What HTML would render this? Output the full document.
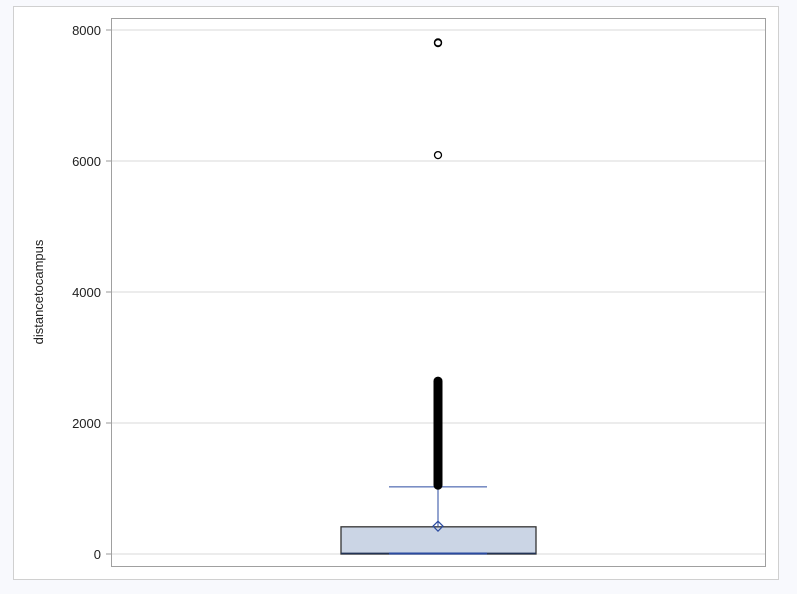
<!DOCTYPE html>
<html><head><meta charset="utf-8"><style>
body{margin:0;background:#f8f9fd;width:797px;height:594px;overflow:hidden;font-family:"Liberation Sans",sans-serif}
</style></head><body>
<svg width="797" height="594" style="position:absolute;left:0;top:0">
<rect x="13.5" y="6.5" width="765" height="573" fill="#fff" stroke="#d0d0d0"/>
<g id="grid"></g>
<rect x="111.5" y="18.5" width="654" height="548" fill="none" stroke="#a0a0a0"/>
<g id="ticks"></g>
<text x="43" y="292" font-size="13" fill="#222" text-anchor="middle" transform="rotate(-90 43 292)">distancetocampus</text>
<g id="marks"></g>
</svg>
<script>
const yTicks=[0,2000,4000,6000,8000];
const stats={min:0,q1:0,median:10,q3:415,max:1025,mean:425};
const outlierRange=[1050,2640];
const outliers=[6090,7810,7800];
const ns="http://www.w3.org/2000/svg";
const y=v=>554-v*131/2000;
const cx=438;
function mk(t,a,p){const e=document.createElementNS(ns,t);for(const k in a)e.setAttribute(k,a[k]);document.getElementById(p).appendChild(e);return e;}
yTicks.forEach(v=>{
 let g=mk('line',{x1:112,x2:765,y1:y(v),y2:y(v),stroke:'#ececec','stroke-width':2},'grid');
 
 
 let t=mk('line',{x1:106,x2:111,y1:y(v),y2:y(v),stroke:'#999'},'ticks');
 
 
 let l=mk('text',{x:101,y:y(v)+5,'font-size':13,fill:'#222','text-anchor':'end'},'ticks');
 l.textContent=v;
 
 
});
let b=mk('rect',{x:341,y:y(stats.q3),width:195,height:y(stats.q1)-y(stats.q3),fill:'#cbd5e5',stroke:'#333','stroke-width':1.3},'marks');


let md=mk('line',{x1:341,x2:536,y1:y(stats.median),y2:y(stats.median),stroke:'#223355','stroke-width':1.5},'marks');


let w=mk('line',{x1:cx,x2:cx,y1:y(stats.q3),y2:y(stats.max),stroke:'#2a4aa0'},'marks');


let c=mk('line',{x1:389,x2:487,y1:y(stats.max),y2:y(stats.max),stroke:'#2a4aa0'},'marks');


let c2=mk('line',{x1:389,x2:487,y1:y(stats.min)-0.5,y2:y(stats.min)-0.5,stroke:'#2a4aa0','stroke-width':2},'marks');


const my=y(stats.mean);
let d=mk('polygon',{points:`${cx},${my-5} ${cx+5},${my} ${cx},${my+5} ${cx-5},${my}`,fill:'none',stroke:'#2a4aa0','stroke-width':1.2},'marks');


let oc=mk('line',{x1:cx,x2:cx,y1:y(outlierRange[0]),y2:y(outlierRange[1]),stroke:'#000','stroke-width':9,'stroke-linecap':'round'},'marks');


outliers.forEach(v=>{
 let o=mk('circle',{cx:cx,cy:y(v),r:3.5,fill:'none',stroke:'#000','stroke-width':1.3},'marks');
 
 
});
</script>
</body></html>
